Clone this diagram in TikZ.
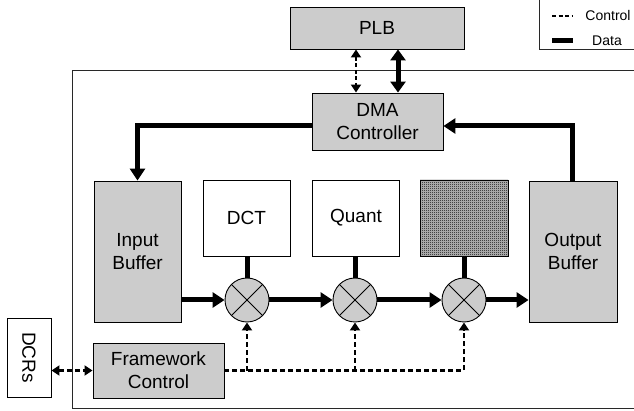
\documentclass[tikz,border=0pt]{standalone}
\usepackage{fontspec}
\setmainfont{Liberation Sans}
\usetikzlibrary{arrows.meta,patterns,shapes.geometric}

% fine two-by-two checkerboard fill for the unnamed stage
\pgfdeclarepatternformonly{finecheck}{\pgfpointorigin}{\pgfqpoint{2pt}{2pt}}{\pgfqpoint{2pt}{2pt}}{%
  \pgfpathrectangle{\pgfpointorigin}{\pgfqpoint{1pt}{1pt}}%
  \pgfpathrectangle{\pgfqpoint{1pt}{1pt}}{\pgfqpoint{1pt}{1pt}}%
  \pgfusepath{fill}}

\definecolor{boxgray}{RGB}{204,204,204}
\definecolor{framegray}{RGB}{40,40,40}

\tikzset{
  blk/.style={draw=black, line width=0.9pt, rectangle, inner sep=0pt, align=center,
              font=\fontsize{19}{23}\selectfont},
  grayblk/.style={blk, fill=boxgray},
  mixer/.style={draw=black, line width=0.9pt, circle, fill=boxgray, minimum size=44pt, inner sep=0pt},
  datal/.style={line width=5pt},
  datarrow/.style={datal, -{Triangle[length=12pt,width=15pt]}},
  ctrl/.style={line width=2.8pt, dash pattern=on 5pt off 3pt},
  ctrlarrow/.style={ctrl, -{Triangle[length=8pt,width=10pt]}},
  legendtext/.style={font=\fontsize{14}{16}\selectfont},
}

\begin{document}
\begin{tikzpicture}[x=1pt, y=-1pt]
  \useasboundingbox (0,0) rectangle (634,411);
  \begin{scope}
    \clip (0,0) rectangle (634,411);
    % enclosing frame of the core and the legend box
    \draw[draw=framegray, line width=1pt] (72,71) rectangle (700,408);
    \draw[draw=framegray, line width=1pt] (539,-5) rectangle (700,50);
  \end{scope}

  % legend
  \coordinate (lgA) at (552,16);
  \coordinate (lgB) at (573,16);
  \coordinate (lgC) at (552,41);
  \coordinate (lgD) at (573,41);
  \draw[ctrl, line width=2.4pt, dash pattern=on 4pt off 2.5pt] (lgA) -- (lgB);
  \draw[datal] (lgC) -- (lgD);
  \node[legendtext] (lgctrl) at (608,16) {Control};
  \node[legendtext] (lgdata) at (607,41) {Data};

  % blocks
  \node[grayblk, minimum width=174pt, minimum height=42pt] (plb) at (377,28) {PLB};
  \node[grayblk, minimum width=131pt, minimum height=57pt] (dma) at (377.5,121.5) {DMA\\Controller};
  \node[grayblk, minimum width=87pt, minimum height=141pt] (inbuf) at (137.5,251.5) {Input\\Buffer};
  \node[blk, minimum width=87pt, minimum height=76pt] (dct) at (246.5,218) {DCT};
  \node[blk, minimum width=87pt, minimum height=76pt] (quant) at (356,218) {Quant};
  \node[blk, minimum width=88pt, minimum height=76pt,
        preaction={fill=black!25}, pattern=finecheck] (stage) at (464,218) {};
  \node[grayblk, minimum width=88pt, minimum height=141pt] (outbuf) at (573,251.5) {Output\\Buffer};
  \node[grayblk, minimum width=131pt, minimum height=55pt] (fc) at (158.5,370.5) {Framework\\Control};
  \node[blk, fill=white, minimum width=44pt, minimum height=79pt] (dcrs) at (29,357.5) {};
  \node[rotate=-90, font=\fontsize{19}{23}\selectfont] (dcrstext) at (dcrs.center) {DCRs};

  % multipliers
  \node[mixer] (m1) at (247,300) {};
  \node[mixer] (m2) at (355,300) {};
  \node[mixer] (m3) at (464,300) {};
  \foreach \m in {m1,m2,m3}{
    \draw[line width=0.8pt] (\m.north west) -- (\m.south east);
    \draw[line width=0.8pt] (\m.north east) -- (\m.south west);
  }

  % bus links between PLB and DMA controller
  \coordinate (busc) at (356,0);
  \coordinate (busd) at (398,0);
  \draw[ctrl, line width=2.4pt, dash pattern=on 4pt off 2.5pt,
        {Triangle[length=8pt,width=10pt]}-{Triangle[length=8pt,width=10pt]}]
    (plb.south -| busc) -- (dma.north -| busc);
  \draw[datal, {Triangle[length=11pt,width=15pt]}-{Triangle[length=11pt,width=15pt]}]
    (plb.south -| busd) -- (dma.north -| busd);

  % data loop through the DMA controller
  \coordinate (loopy) at (0,126);
  \coordinate (loopx) at (572,0);
  \draw[datarrow] (dma.west |- loopy) -| (inbuf.north);
  \draw[datarrow] (outbuf.north -| loopx) |- (dma.east |- loopy);

  % data path through the pipeline
  \draw[datarrow] (inbuf.east |- m1) -- (m1.west);
  \draw[datarrow] (m1.east) -- (m2.west);
  \draw[datarrow] (m2.east) -- (m3.west);
  \draw[datarrow] (m3.east) -- (outbuf.west |- m3);
  \draw[datal] (dct.south -| m1) -- (m1.north);
  \draw[datal] (quant.south -| m2) -- (m2.north);
  \draw[datal] (stage.south -| m3) -- (m3.north);

  % control from the framework
  \draw[ctrlarrow] (fc.east) -| (m3.south);
  \draw[ctrlarrow] (fc.east -| m1) -- (m1.south);
  \draw[ctrlarrow] (fc.east -| m2) -- (m2.south);
  \draw[ctrl, {Triangle[length=8pt,width=10pt]}-{Triangle[length=8pt,width=10pt]}]
    (dcrs.east |- fc.west) -- (fc.west);
\end{tikzpicture}
\end{document}
